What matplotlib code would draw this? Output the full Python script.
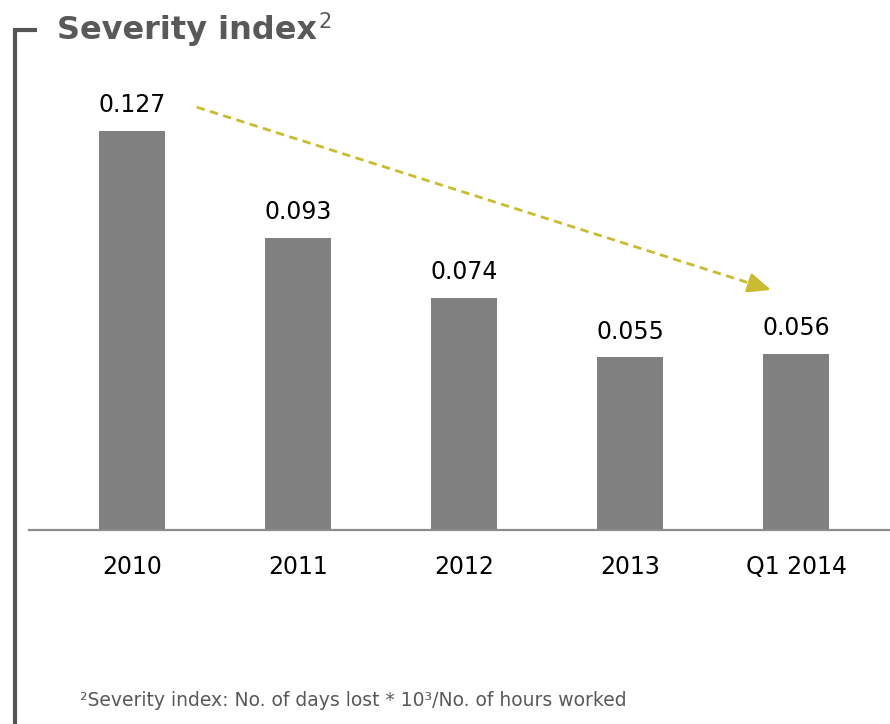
"""
Severity index bar chart with a downward trend arrow.
"""

import matplotlib.pyplot as plt
from matplotlib.lines import Line2D

# ---------------------------------------------------------------------------
# Data
# ---------------------------------------------------------------------------
periods = ["2010", "2011", "2012", "2013", "Q1 2014"]
severity = [0.127, 0.093, 0.074, 0.055, 0.056]
value_labels = ["0.127", "0.093", "0.074", "0.055", "0.056"]

title = "Severity index"
footnote = "²Severity index: No. of days lost * 10³/No. of hours worked"

BAR_COLOR = "#808080"
TEXT_GREY = "#595959"
ARROW_COLOR = "#c9bc2e"

plt.rcParams["font.family"] = ["DejaVu Sans"]

fig = plt.figure(figsize=(8.9, 7.24), dpi=100)
ax = fig.add_axes([29 / 890, 194 / 724, 861 / 890, 470 / 724])

x = list(range(len(periods)))
ax.bar(x, severity, width=0.4, color=BAR_COLOR)

# value labels above each bar
for xi, v, lab in zip(x, severity, value_labels):
    ax.annotate(lab, (xi, v), xytext=(0, 18.5), textcoords="offset points",
                ha="center", va="center", fontsize=17, color="black")

# trend arrow from first bar to last bar: dashed shaft + solid head
x0, y0 = x[0] + 0.39, severity[0] + 0.0076
x1, y1 = x[-1] - 0.15, severity[-1] + 0.0204
f = 0.97  # where the dashed shaft ends
xm, ym = x0 + f * (x1 - x0), y0 + f * (y1 - y0)
ax.plot([x0, xm], [y0, ym], color=ARROW_COLOR, lw=2, linestyle=(0, (3, 2)))
ax.annotate("", xy=(x1, y1), xytext=(xm, ym),
            arrowprops=dict(arrowstyle="-|>,head_length=1.4,head_width=0.6",
                            color=ARROW_COLOR, lw=2,
                            shrinkA=0, shrinkB=0))

ax.set_xlim(-0.62, 4.566)
ax.set_ylim(0, 0.1496)
ax.set_xticks(x)
ax.set_xticklabels(periods, fontsize=17)
ax.tick_params(axis="x", length=0, pad=18)
ax.set_yticks([])
for side in ["top", "right", "left"]:
    ax.spines[side].set_visible(False)
ax.spines["bottom"].set_color("#8c8c8c")
ax.spines["bottom"].set_linewidth(1.6)

# title with superscript
t = fig.text(57 / 890, 1 - 39 / 724, title, fontsize=23, fontweight="bold",
             color=TEXT_GREY, ha="left", va="baseline")
fig.canvas.draw()
bb = t.get_window_extent()
fig.text((bb.x1 + 2) / 890, 1 - 39 / 724 + 11 / 724, "2", fontsize=15,
         color=TEXT_GREY, ha="left", va="baseline")

# bracket on the left
fig.add_artist(Line2D([15 / 890, 15 / 890], [1 - 30 / 724, 0], color="#555555",
                      lw=3, transform=fig.transFigure, solid_capstyle="butt"))
fig.add_artist(Line2D([13 / 890, 37 / 890], [1 - 30 / 724, 1 - 30 / 724],
                      color="#555555", lw=3, transform=fig.transFigure,
                      solid_capstyle="butt"))

fig.text(80 / 890, 1 - 701 / 724, footnote, fontsize=13.5, color=TEXT_GREY,
         ha="left", va="center")

fig.savefig("out.png", dpi=100)
plt.close(fig)
